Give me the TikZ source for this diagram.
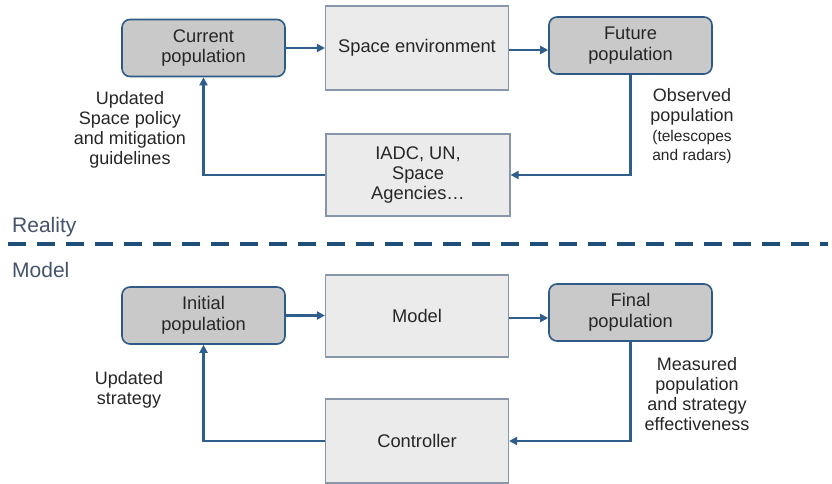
\documentclass[tikz,border=0pt]{standalone}
\usepackage{fontspec}
\setmainfont{Liberation Sans}
\usetikzlibrary{arrows.meta}
\definecolor{popfill}{HTML}{C9C9C9}
\definecolor{popdraw}{HTML}{2E5A87}
\definecolor{procfill}{HTML}{EBEBEB}
\definecolor{procdraw}{HTML}{8796AB}
\definecolor{arrowblue}{HTML}{2F5D8C}
\definecolor{dashblue}{HTML}{1F4E79}
\definecolor{sectext}{HTML}{44546A}
\definecolor{txt}{HTML}{262626}
\tikzset{
  popbox/.style={rounded corners=8pt, fill=popfill, draw=popdraw, line width=1.6pt,
    minimum width=163pt, minimum height=57pt, align=center, inner sep=0pt,
    text=txt, font=\fontsize{18.3}{20.5}\selectfont},
  procbox/.style={fill=procfill, draw=procdraw, line width=1.2pt,
    minimum width=183pt, minimum height=83pt, align=center, inner sep=0pt,
    text=txt, font=\fontsize{18.3}{20}\selectfont},
  flow/.style={draw=arrowblue, line width=2.6pt, -{Triangle[length=8pt,width=8pt]}},
  lbl/.style={align=center, text=txt, inner sep=0pt, font=\fontsize{18}{20}\selectfont},
  sect/.style={anchor=west, text=sectext, inner sep=0pt, font=\fontsize{21}{24}\selectfont}
}
\begin{document}
\begin{tikzpicture}[x=1pt,y=-1pt]
\useasboundingbox[fill=white] (0,0) rectangle (832,484);
% Reality
\node[popbox] (cur) at (203.5,48) {Current\\population};
\node[procbox, minimum height=84pt] (env) at (417,48) {Space environment};
\node[popbox] (fut) at (630.5,45.5) {Future\\population};
\node[procbox, minimum width=184pt, minimum height=82pt] (iadc) at (418,175) {IADC, UN,\\Space\\Agencies…};
\draw[flow] (cur.east) -- (env.west);
\draw[flow] ([yshift=-2pt]env.east) -- ([yshift=-2pt]env.east -| fut.west);
\draw[flow] (fut.south) |- (iadc.east);
\draw[flow] (iadc.west) -| (cur.south);
\node[lbl] (lpol) at (130,130) {Updated\\Space policy\\and mitigation\\guidelines};
\node[lbl] (lobs) at (692,107) {Observed\\population};
\node[lbl, font=\fontsize{15.5}{19}\selectfont] (lobs2) at (692,146.5) {(telescopes\\and radars)};
% separator
\node[sect] (reality) at (12,227) {Reality};
\coordinate (dl) at (8,244);
\coordinate (dr) at (828,244);
\draw[dashblue, line width=3.5pt, dash pattern=on 18pt off 11pt] (dl) -- (dr);
\node[sect] (modellbl) at (12,270) {Model};
% Model
\node[popbox] (init) at (203.5,315.5) {Initial\\population};
\node[procbox, minimum height=82pt] (model) at (417,316) {Model};
\node[popbox] (fin) at (630.5,312.5) {Final\\population};
\node[procbox, minimum height=84pt] (ctrl) at (417,441) {Controller};
\draw[flow] (init.east) -- (init.east -| model.west);
\draw[flow] ([yshift=-2pt]model.east) -- ([yshift=-2pt]model.east -| fin.west);
\draw[flow] (fin.south) |- (ctrl.east);
\draw[flow] (ctrl.west) -| (init.south);
\node[lbl] (lstr) at (129,390) {Updated\\strategy};
\node[lbl] (lmeas) at (697,394) {Measured\\population\\and strategy\\effectiveness};
\end{tikzpicture}
\end{document}
